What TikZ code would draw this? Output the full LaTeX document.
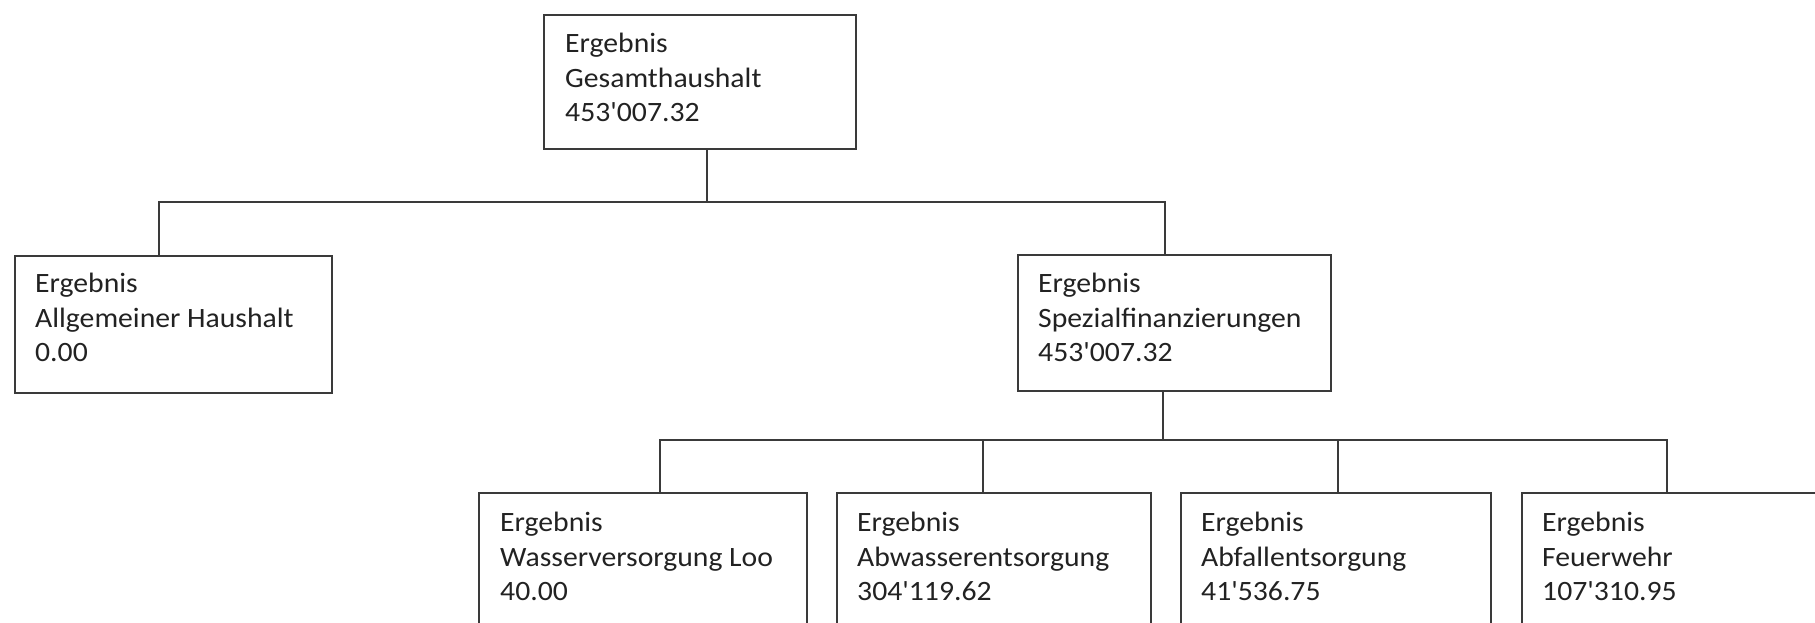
\documentclass[tikz,border=0pt]{standalone}
\usepackage{fontspec}
\setmainfont{Carlito}[Ligatures=TeXOff,FakeStretch=1.06]
\usetikzlibrary{calc}
\definecolor{linec}{HTML}{3A3A3A}
\definecolor{textc}{HTML}{222222}
\begin{document}
\begin{tikzpicture}[x=1pt,y=-1pt,
  box/.style={draw=linec,line width=2.2pt,rectangle,inner sep=0pt,anchor=north west},
  conn/.style={draw=linec,line width=1.8pt},
  txt/.style={anchor=north west,inner sep=0pt,align=left,text=textc,font=\fontsize{28}{34.5}\selectfont}]
\useasboundingbox (0,0) rectangle (1815,622);
\fill[white] (0,0) rectangle (1815,622);
\clip (0,0) rectangle (1815,622);
% boxes
\node[box,minimum width=312pt,minimum height=134pt] (top) at (543,14) {};
\node[box,minimum width=317pt,minimum height=137pt] (left) at (14,255) {};
\node[box,minimum width=313pt,minimum height=136pt] (spez) at (1017,254) {};
\node[box,minimum width=328pt,minimum height=160pt] (b1) at (478,492) {};
\node[box,minimum width=314pt,minimum height=160pt] (b2) at (836,492) {};
\node[box,minimum width=310pt,minimum height=160pt] (b3) at (1180,492) {};
\node[box,minimum width=320pt,minimum height=160pt] (b4) at (1521,492) {};
% texts
\node[txt] (t0) at ($(top.north west)+(22,19)$) {Ergebnis\\Gesamthaushalt\\453'007.32};
\node[txt] (tl) at ($(left.north west)+(21,18)$) {Ergebnis\\Allgemeiner Haushalt\\0.00};
\node[txt] (ts) at ($(spez.north west)+(21,19)$) {Ergebnis\\Spezialfinanzierungen\\453'007.32};
\node[txt] (t1) at ($(b1.north west)+(22,20)$) {Ergebnis\\Wasserversorgung Loo\\40.00};
\node[txt] (t2) at ($(b2.north west)+(21,20)$) {Ergebnis\\Abwasserentsorgung\\304'119.62};
\node[txt] (t3) at ($(b3.north west)+(21,20)$) {Ergebnis\\Abfallentsorgung\\41'536.75};
\node[txt] (t4) at ($(b4.north west)+(21,20)$) {Ergebnis\\Feuerwehr\\107'310.95};
% connectors level 1
\coordinate (s0) at (707,202);
\coordinate (xa) at (159,202);
\coordinate (xb) at (1165,202);
\draw[conn] (top.south -| s0) -- (s0);
\draw[conn] (left.north -| xa) -- (xa) -- (xb) -- (spez.north -| xb);
% connectors level 2
\coordinate (s1) at (1163,440);
\coordinate (c1) at (660,440);
\coordinate (c2) at (983,440);
\coordinate (c3) at (1338,440);
\coordinate (c4) at (1667,440);
\draw[conn] (spez.south -| s1) -- (s1);
\draw[conn] (b1.north -| c1) -- (c1) -- (c4) -- (b4.north -| c4);
\draw[conn] (b2.north -| c2) -- (c2);
\draw[conn] (b3.north -| c3) -- (c3);
\end{tikzpicture}
\end{document}
